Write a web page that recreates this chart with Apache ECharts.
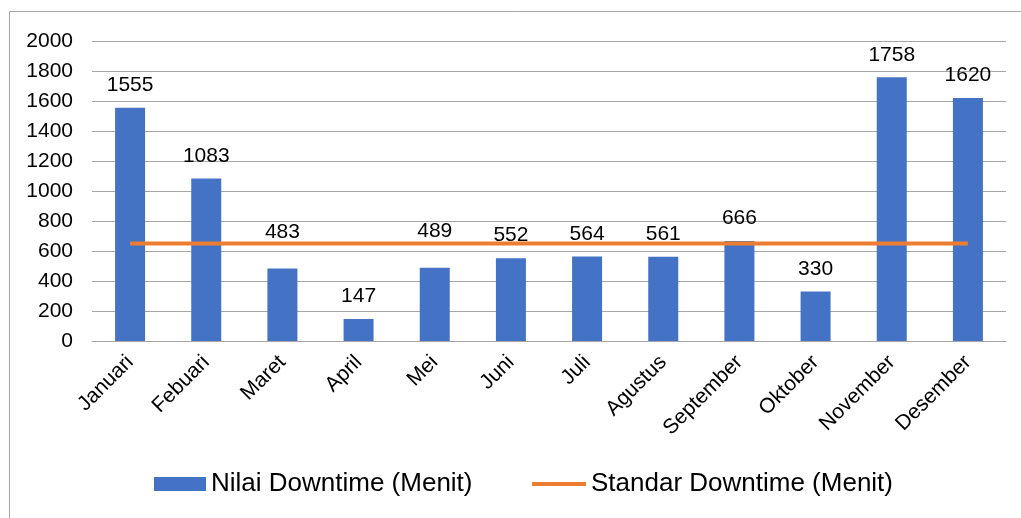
<!DOCTYPE html>
<html>
<head>
<meta charset="utf-8">
<script src="https://cdn.jsdelivr.net/npm/echarts@6/dist/echarts.min.js"></script>
<style>
  html, body { margin: 0; padding: 0; background: #fff; }
  #chart { width: 1021px; height: 518px; }
</style>
</head>
<body>
<div id="chart"></div>
<script>
var months = ['Januari', 'Febuari', 'Maret', 'April', 'Mei', 'Juni', 'Juli', 'Agustus', 'September', 'Oktober', 'November', 'Desember'];
var downtime = [1555, 1083, 483, 147, 489, 552, 564, 561, 666, 330, 1758, 1620];
var standar = [650, 650, 650, 650, 650, 650, 650, 650, 650, 650, 650, 650];
var yTicks = { min: 0, max: 2000, interval: 200 };

var chart = echarts.init(document.getElementById('chart'));
var font = 'Liberation Sans, Arial, sans-serif';

// labels that would sit right on the orange line get pushed above it (like excel did)
var barData = downtime.map(function (v, i) {
    var gap = standar[i] - v;
    if (gap > 120 && gap < 200) {
        return { value: v, label: { distance: 26 } };
    }
    return v;
});

chart.setOption({
    animation: false,
    textStyle: { fontFamily: font },
    graphic: [{
        type: 'rect',
        shape: { x: 9.5, y: 11.5, width: 1200, height: 700 },
        style: { fill: 'none', stroke: '#a6a6a6', lineWidth: 1 }
    }],
    grid: { left: 92, right: 15, top: 41, bottom: 177 },
    legend: [{
        left: 149,
        top: 466,
        itemWidth: 52,
        itemHeight: 14,
        textStyle: { fontSize: 26, color: '#000', fontFamily: font },
        data: [{ name: 'Nilai Downtime (Menit)', icon: 'rect' }]
    }, {
        left: 527,
        top: 466,
        itemWidth: 54,
        itemHeight: 14,
        textStyle: { fontSize: 26, color: '#000', fontFamily: font },
        data: [{ name: 'Standar Downtime (Menit)', icon: 'path://M0,0H54V4H0Z' }]
    }],
    xAxis: {
        type: 'category',
        data: months,
        axisTick: { show: false },
        axisLine: { lineStyle: { color: '#a6a6a6', width: 1 } },
        axisLabel: { rotate: 45, fontSize: 21, color: '#000', margin: 18, interval: 0 }
    },
    yAxis: {
        type: 'value',
        min: yTicks.min,
        max: yTicks.max,
        interval: yTicks.interval,
        axisLine: { show: false },
        axisTick: { show: false },
        splitLine: { lineStyle: { color: '#a6a6a6', width: 1 } },
        axisLabel: { fontSize: 21, color: '#000', margin: 19, formatter: function (v) { return String(v); } }
    },
    series: [{
        name: 'Nilai Downtime (Menit)',
        type: 'bar',
        data: barData,
        barWidth: 30,
        itemStyle: { color: '#4472C4' },
        label: { show: true, position: 'top', distance: 12, fontSize: 21, color: '#000' }
    }, {
        name: 'Standar Downtime (Menit)',
        type: 'line',
        data: standar,
        symbol: 'none',
        lineStyle: { color: '#ED7D31', width: 4 },
        itemStyle: { color: '#ED7D31' }
    }]
});
</script>
</body>
</html>
